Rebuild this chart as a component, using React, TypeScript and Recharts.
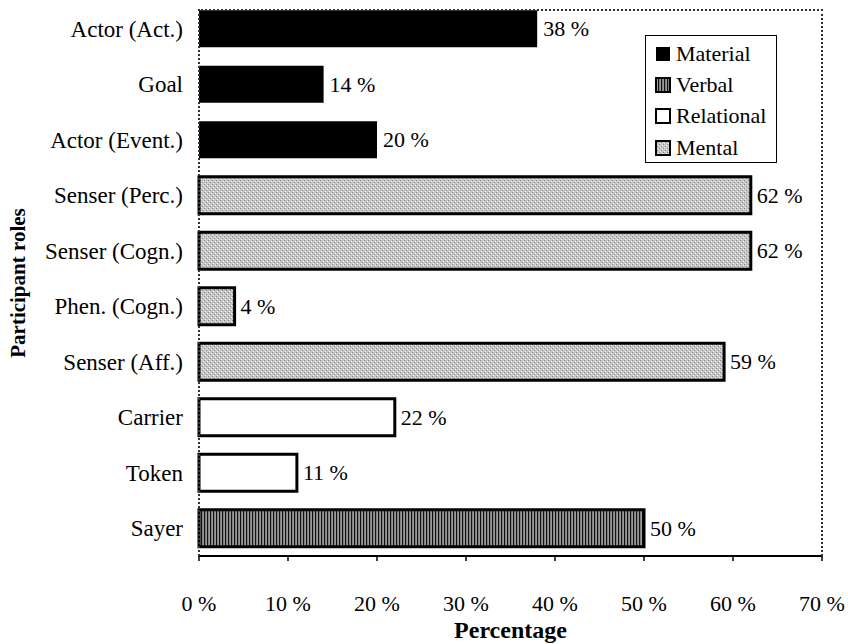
import { BarChart, Bar, Cell, XAxis, YAxis, LabelList } from "recharts";

// participant roles, top to bottom
const roles = [
  "Actor (Act.)", "Goal", "Actor (Event.)", "Senser (Perc.)", "Senser (Cogn.)",
  "Phen. (Cogn.)", "Senser (Aff.)", "Carrier", "Token", "Sayer",
];
const shares = [38, 14, 20, 62, 62, 4, 59, 22, 11, 50];
const processOf = [
  "Material", "Material", "Material", "Mental", "Mental",
  "Mental", "Mental", "Relational", "Relational", "Verbal",
];
const processTypes = ["Material", "Verbal", "Relational", "Mental"];
const pctTicks = [0, 10, 20, 30, 40, 50, 60, 70];

const data = roles.map((role, i) => ({ role, share: shares[i], process: processOf[i] }));

const FONT = '"Liberation Serif", "Times New Roman", serif';

const FILL: Record<string, string> = {
  Material: "#000",
  Verbal: "url(#verbalStripes)",
  Relational: "#fff",
  Mental: "url(#mentalDots)",
};
const STROKE: Record<string, number> = { Material: 0, Verbal: 3, Relational: 3, Mental: 3 };

function Patterns({ suffix = "" }: { suffix?: string }) {
  return (
    <defs>
      <pattern id={`verbalStripes${suffix}`} width="3" height="4" patternUnits="userSpaceOnUse">
        <rect width="3" height="4" fill="#9a9a9a" />
        <rect width="1.2" height="4" fill="#111" />
      </pattern>
      <pattern id={`mentalDots${suffix}`} width="4" height="4" patternUnits="userSpaceOnUse">
        <rect width="4" height="4" fill="#c6c6c6" />
        <rect x="0" y="0" width="1" height="1" fill="#8a8a8a" />
        <rect x="2" y="2" width="1" height="1" fill="#8a8a8a" />
        <rect x="1" y="3" width="1" height="1" fill="#eee" />
        <rect x="3" y="1" width="1" height="1" fill="#eee" />
      </pattern>
    </defs>
  );
}

function LegendBox() {
  return (
    <div style={{
      position: "absolute", left: 645, top: 35, width: 132, height: 128,
      border: "1.5px solid #000", background: "#fff", fontFamily: FONT, fontSize: 22,
      boxSizing: "border-box", padding: "2px 0 0 9px",
    }}>
      {processTypes.map((p) => (
        <div key={p} style={{ display: "flex", alignItems: "center", height: 31.3 }}>
          <svg width={16} height={16} style={{ marginRight: 5 }}>
            <Patterns suffix="L" />
            <rect x={1} y={1} width={14} height={14}
                  fill={FILL[p].replace(")", "L)")} stroke="#000" strokeWidth={p === "Material" ? 0 : 2} />
          </svg>
          <span>{p}</span>
        </div>
      ))}
    </div>
  );
}

export default function App() {
  return (
    <div style={{ position: "absolute", left: 0, top: 0, width: 848, height: 644, background: "#fff" }}>
      <BarChart width={848} height={644} data={data} layout="vertical"
                margin={{ top: 1, right: 26, bottom: 28, left: 0 }} barCategoryGap="16.5%">
        <Patterns />
        <XAxis type="number" domain={[0, 70]} ticks={pctTicks} tickFormatter={(v) => `${v} %`}
               axisLine={{ stroke: "#000", strokeWidth: 2 }} tickLine={{ stroke: "#000", strokeWidth: 1.5 }}
               tickSize={5} tickMargin={34} height={60}
               tick={{ fontSize: 22, fill: "#000", fontFamily: FONT }} />
        <YAxis type="category" dataKey="role" width={199} axisLine={false} tickLine={false}
               tickSize={0} tickMargin={16} interval={0}
               tick={{ fontSize: 23, fill: "#000", fontFamily: FONT }} />
        <Bar dataKey="share" isAnimationActive={false}>
          {data.map((d) => (
            <Cell key={d.role} fill={FILL[d.process]} stroke="#000" strokeWidth={STROKE[d.process]} />
          ))}
          <LabelList dataKey="share" position="right" offset={6} formatter={(v: number) => `${v} %`}
                     style={{ fontSize: 22, fill: "#000", fontFamily: FONT }} />
        </Bar>
      </BarChart>
      {/* plot frame */}
      <div style={{
        position: "absolute", left: 198, top: 9, width: 625, height: 547,
        borderTop: "2px dotted #333", borderRight: "2px dotted #333", borderLeft: "2px dotted #333",
        boxSizing: "border-box", pointerEvents: "none",
      }} />
      <LegendBox />
      <div style={{
        position: "absolute", left: 199, width: 623, top: 617, textAlign: "center",
        fontFamily: FONT, fontWeight: "bold", fontSize: 24,
      }}>Percentage</div>
      <div style={{
        position: "absolute", left: 18, top: 283, transform: "translate(-50%, -50%) rotate(-90deg)",
        whiteSpace: "nowrap", fontFamily: FONT, fontWeight: "bold", fontSize: 21,
      }}>Participant roles</div>
    </div>
  );
}
